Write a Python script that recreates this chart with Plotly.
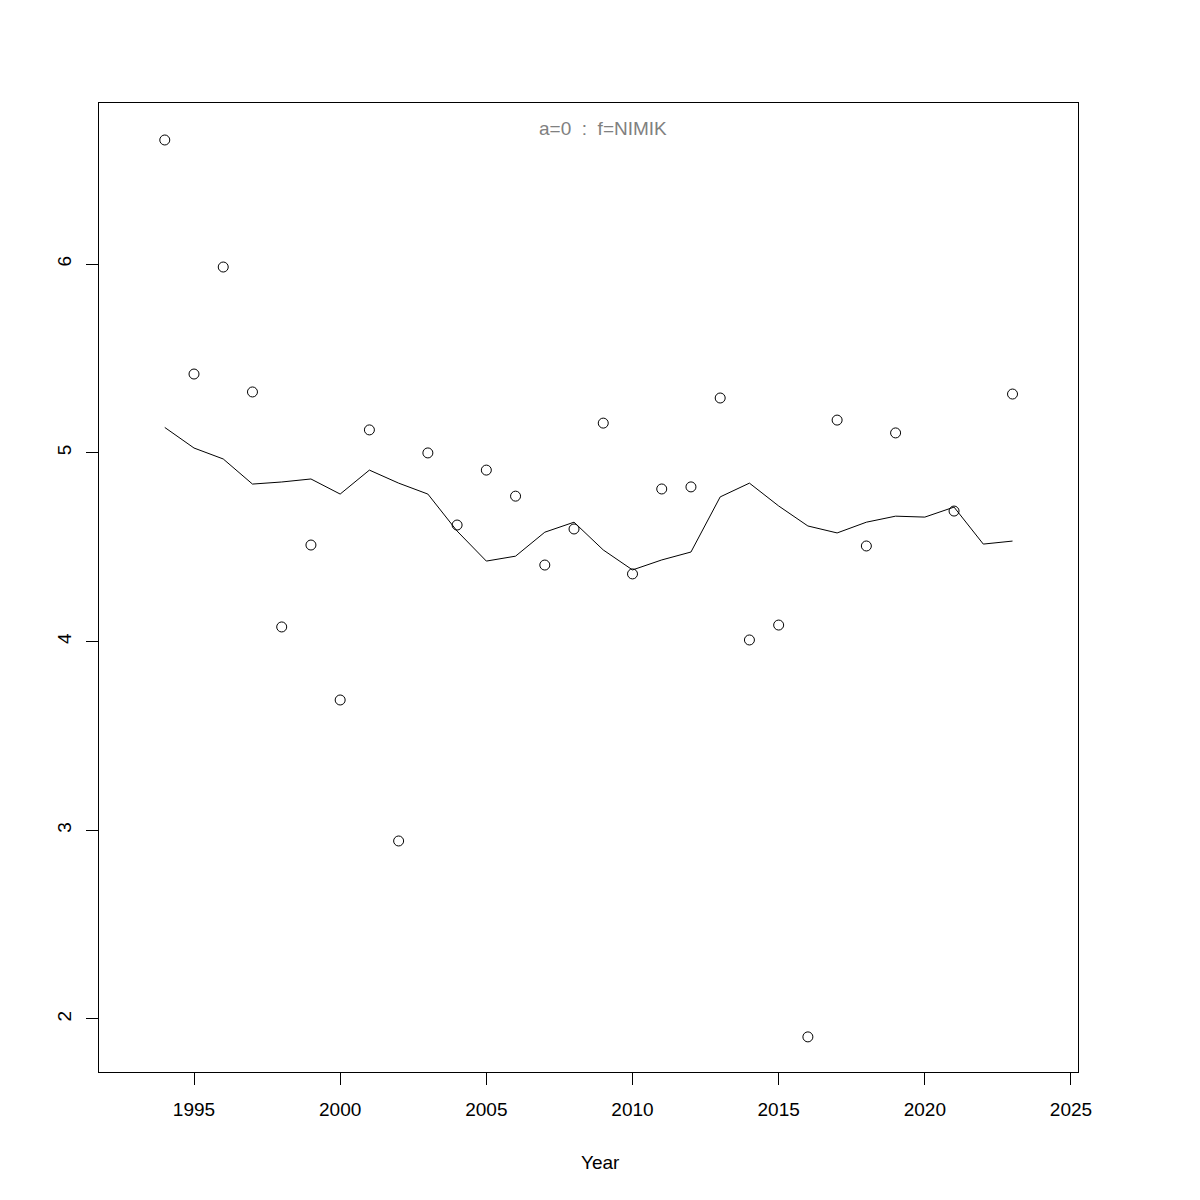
import plotly.graph_objects as go

years = list(range(1994, 2024))
observed = [6.657, 5.417, 5.984, 5.322, 4.077, 4.511, 3.690, 5.121, 2.943, 4.999,
            4.617, 4.908, 4.770, 4.405, 4.596, 5.157, 4.358, 4.808, 4.819, 5.290,
            4.008, 4.087, 1.905, 5.173, 4.506, 5.105, None, 4.691, None, 5.311]
fitted = [5.134, 5.025, 4.967, 4.834, 4.845, 4.861, 4.781, 4.908, 4.839, 4.781,
          4.585, 4.426, 4.452, 4.579, 4.632, 4.485, 4.379, 4.432, 4.474, 4.766,
          4.839, 4.718, 4.612, 4.575, 4.632, 4.664, 4.659, 4.712, 4.516, 4.532]
x_ticks = [1995, 2000, 2005, 2010, 2015, 2020, 2025]
y_ticks = [2, 3, 4, 5, 6]
title_text = "a=0\u00a0\u00a0:\u00a0\u00a0f=NIMIK"
x_label = "Year"

fig = go.Figure()
fig.add_trace(go.Scatter(
    x=years, y=observed, mode="markers",
    marker=dict(symbol="circle-open", size=10, color="black", line=dict(width=1, color="black")),
    showlegend=False, cliponaxis=False))
fig.add_trace(go.Scatter(
    x=years, y=fitted, mode="lines",
    line=dict(color="black", width=1), showlegend=False))

font = "Liberation Sans, Arial, sans-serif"
fig.update_layout(
    width=1200, height=1200,
    margin=dict(l=91, r=130, t=95, b=136),
    paper_bgcolor="white", plot_bgcolor="white",
    font=dict(family=font, size=19, color="black"),
    xaxis=dict(range=[1991.75, 2025.24], tickvals=x_ticks, ticks="outside", ticklen=12,
               tickcolor="black", showline=True, mirror=True, linecolor="black", linewidth=1,
               showgrid=False, zeroline=False, tickfont=dict(size=19), ticklabelstandoff=8),
    yaxis=dict(range=[1.719, 6.853], tickvals=y_ticks, ticks="outside", ticklen=12,
               tickcolor="black", showline=True, mirror=True, linecolor="black", linewidth=1,
               showgrid=False, zeroline=False, tickangle=-90, tickfont=dict(size=19),
               ticklabelstandoff=7),
    annotations=[
        dict(text=title_text, xref="paper", yref="paper", x=0.515, y=0.9732,
             xanchor="center", yanchor="middle", showarrow=False,
             font=dict(size=19, color="#808080")),
        dict(text=x_label, xref="paper", yref="paper", x=0.512, y=-0.0939,
             xanchor="center", yanchor="middle", showarrow=False,
             font=dict(size=19, color="black")),
    ],
)
fig.write_html("out.html")
